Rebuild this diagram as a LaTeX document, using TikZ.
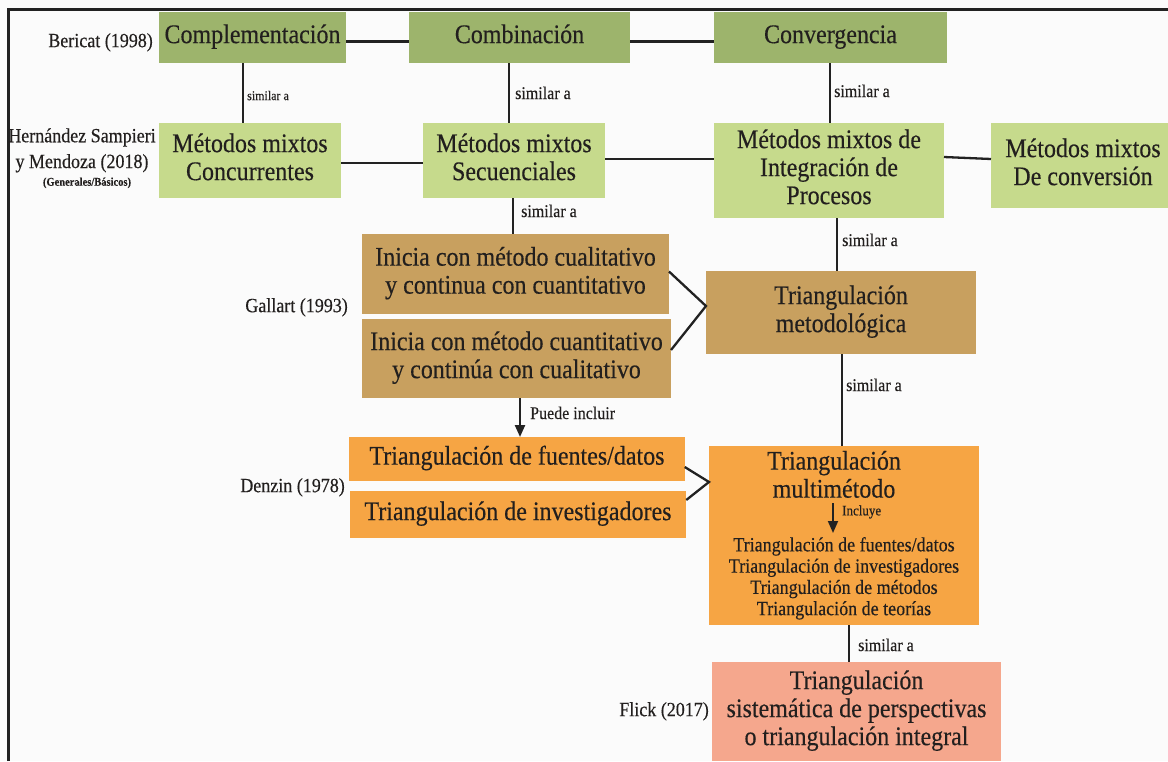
\documentclass[tikz,border=0pt]{standalone}
\usepackage{fontspec}
\setmainfont{Liberation Serif}[FakeBold=0.35]
\usepackage{graphicx}
\usetikzlibrary{arrows.meta}
\definecolor{dkg}{HTML}{9DB46C}
\definecolor{ltg}{HTML}{C6DA8C}
\definecolor{tan}{HTML}{C8A05F}
\definecolor{org}{HTML}{F6A544}
\definecolor{pnk}{HTML}{F5A78D}
\definecolor{bg}{HTML}{FBFBFB}
\definecolor{txt}{HTML}{221F1E}
\definecolor{lc}{HTML}{222222}
\newcommand\st[1]{\scalebox{1}[1.12]{\begin{tabular}{@{}c@{}}#1\end{tabular}}}
\begin{document}
\begin{tikzpicture}[x=1pt,y=-1pt,
  box/.style={inner sep=0pt, outer sep=0pt, text=txt, font=\fontsize{24}{25}\selectfont},
  lbl/.style={inner sep=0pt, text=txt, font=\fontsize{18}{23}\selectfont},
  sim/.style={inner sep=0pt, anchor=west, text=txt, font=\fontsize{16}{18}\selectfont},
  conn/.style={draw=lc, line width=2.3pt},
  arr/.style={conn, -{Triangle[length=12pt,width=10pt]}}]
\useasboundingbox (0,0) rectangle (1168,761);
\fill[bg] (0,0) rectangle (1168,761);
\draw[lc, line width=3pt] (8,761) -- (8,9) -- (1168,9);

% row 1
\node[box, fill=dkg, minimum width=187pt, minimum height=51pt] (compl) at (252.5,37.5) {\st{Complementación}};
\node[box, fill=dkg, minimum width=221pt, minimum height=51pt] (comb) at (519.5,37.5) {\st{Combinación}};
\node[box, fill=dkg, minimum width=233pt, minimum height=51pt] (conv) at (830.5,37.5) {\st{Convergencia}};
% row 2
\node[box, fill=ltg, minimum width=182pt, minimum height=75pt] (conc) at (250,160.5) {\st{Métodos mixtos\\Concurrentes}};
\node[box, fill=ltg, minimum width=182pt, minimum height=75pt] (sec) at (514,160.5) {\st{Métodos mixtos\\Secuenciales}};
\node[box, fill=ltg, minimum width=230pt, minimum height=95pt] (integ) at (829,170.5) {\st{Métodos mixtos de\\Integración de\\Procesos}};
\node[box, fill=ltg, minimum width=184pt, minimum height=85pt] (conv2) at (1083,165.5) {\st{Métodos mixtos\\De conversión}};
% row 3
\node[box, fill=tan, minimum width=307pt, minimum height=80pt] (ini1) at (515.5,274) {\st{Inicia con método cualitativo\\y continua con cuantitativo}};
\node[box, fill=tan, minimum width=309pt, minimum height=79pt] (ini2) at (516.5,358.5) {\st{Inicia con método cuantitativo\\y continúa con cualitativo}};
\node[box, fill=tan, minimum width=270pt, minimum height=83pt] (metod) at (841,312.5) {\st{Triangulación\\metodológica}};
% row 4
\node[box, fill=org, minimum width=335.5pt, minimum height=44pt] (fuentes) at (517,459) {\st{Triangulación de fuentes/datos}};
\node[box, fill=org, minimum width=336.5pt, minimum height=47pt] (invest) at (518,514.5) {\st{Triangulación de investigadores}};
\node[box, fill=org, minimum width=270pt, minimum height=179pt] (multi) at (844,535.5) {};
\node[box] (mh) at (834,478) {\st{Triangulación\\multimétodo}};
\node[inner sep=0pt, text=txt, font=\fontsize{18}{19}\selectfont] (ml) at (844,579) {\st{Triangulación de fuentes/datos\\Triangulación de investigadores\\Triangulación de métodos\\Triangulación de teorías}};
% row 5
\node[box, fill=pnk, minimum width=289pt, minimum height=99pt] (flick) at (856.5,711.5) {\st{Triangulación\\sistemática de perspectivas\\o triangulación integral}};

% author labels
\node[lbl, anchor=east] (bericat) at (153,42) {\st{Bericat (1998)}};
\node[lbl] (hs) at (82,150) {\st{Hernández Sampieri\\y Mendoza (2018)}};
\node[inner sep=0pt, text=txt, font=\fontsize{10.5}{12}\selectfont\bfseries] (hsb) at (87,183) {\st{(Generales/Básicos)}};
\node[lbl, anchor=east] (gallart) at (348,307) {\st{Gallart (1993)}};
\node[lbl, anchor=east] (denzin) at (345,487) {\st{Denzin (1978)}};
\node[lbl, anchor=east] (flickl) at (709,711) {\st{Flick (2017)}};

% helper coordinates
\coordinate (x243) at (243,0);
\coordinate (x509) at (509,0);
\coordinate (x830) at (830,0);
\coordinate (x513) at (513,0);
\coordinate (x837) at (837,0);
\coordinate (x842) at (842,0);
\coordinate (x849) at (849,0);
\coordinate (x520) at (520,0);
\coordinate (y157) at (0,157);
\coordinate (y159) at (0,159);
\coordinate (i1) at (833,503);
\coordinate (i2) at (833,533);

% horizontal connectors
\draw[conn] ([yshift=-4pt]compl.east) -- ([yshift=-4pt]comb.west);
\draw[conn] ([yshift=-4pt]comb.east) -- ([yshift=-4pt]conv.west);
\draw[conn] ([yshift=-2.5pt]conc.east) -- ([yshift=-2.5pt]sec.west);
\draw[conn] (sec.east |- y159) -- (integ.west |- y159);
\draw[conn] (integ.east |- y157) -- (conv2.west |- y159);

% vertical connectors
\draw[conn] (compl.south -| x243) -- (conc.north -| x243);
\draw[conn] (comb.south -| x509) -- (sec.north -| x509);
\draw[conn] (conv.south -| x830) -- (integ.north -| x830);
\draw[conn] (sec.south -| x513) -- (ini1.north -| x513);
\draw[conn] (integ.south -| x837) -- (metod.north -| x837);
\draw[conn] (metod.south -| x842) -- (multi.north -| x842);
\draw[conn] (multi.south -| x849) -- (flick.north -| x849);
\draw[arr] (ini2.south -| x520) -- (fuentes.north -| x520);
\draw[arr, line width=1.8pt] (i1) -- (i2);

% brackets
\draw[conn] ([yshift=2.5pt]ini1.east) -- ([yshift=6.5pt]metod.west) -- ([yshift=8.5pt]ini2.east);
\draw[conn] ([yshift=-8pt]fuentes.east) -- ([yshift=-36pt]multi.north west) -- ([yshift=14.5pt]invest.east);

% connector labels
\node[sim, font=\fontsize{12}{14}\selectfont] (s1) at (247,97) {\st{similar a}};
\node[sim] (s2) at (515,95) {\st{similar a}};
\node[sim] (s3) at (834,93) {\st{similar a}};
\node[sim] (s4) at (521,213) {\st{similar a}};
\node[sim] (s5) at (842,242) {\st{similar a}};
\node[sim] (s6) at (846,387) {\st{similar a}};
\node[sim] (s7) at (858,647) {\st{similar a}};
\node[sim] (pi) at (530,415) {\st{Puede incluir}};
\node[sim, font=\fontsize{13}{15}\selectfont] (inc) at (842,512) {\st{Incluye}};
\end{tikzpicture}
\end{document}
